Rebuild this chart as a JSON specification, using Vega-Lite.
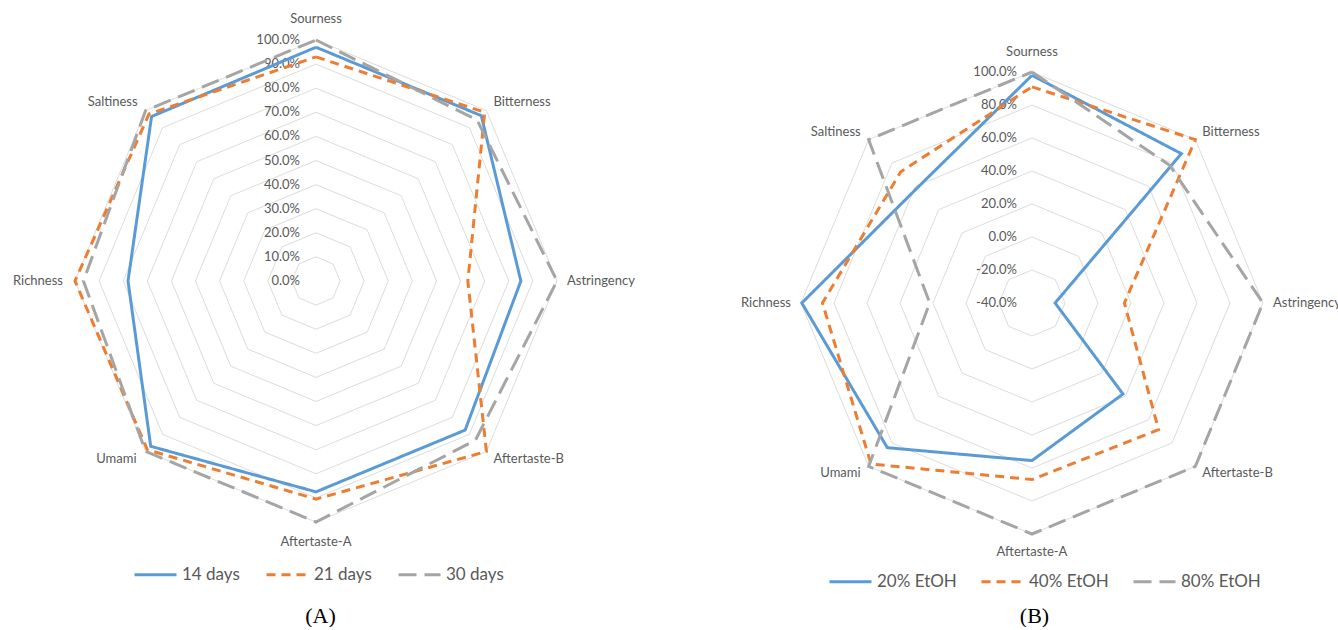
{
  "$schema": "https://vega.github.io/schema/vega-lite/v6.json",
  "padding": 0,
  "spacing": 0,
  "bounds": "flush",
  "background": "white",
  "config": {"view": {"stroke": null}, "font": "Lato"},
  "datasets": {
    "attrs": [
      {"attr": "Sourness", "k": 0}, {"attr": "Bitterness", "k": 1}, {"attr": "Astringency", "k": 2}, {"attr": "Aftertaste-B", "k": 3},
      {"attr": "Aftertaste-A", "k": 4}, {"attr": "Umami", "k": 5}, {"attr": "Richness", "k": 6}, {"attr": "Saltiness", "k": 7}
    ],
    "ringsA": [
      {"lv": 0, "lab": "0.0%", "k": [0,1,2,3,4,5,6,7,8]},
      {"lv": 10, "lab": "10.0%", "k": [0,1,2,3,4,5,6,7,8]},
      {"lv": 20, "lab": "20.0%", "k": [0,1,2,3,4,5,6,7,8]},
      {"lv": 30, "lab": "30.0%", "k": [0,1,2,3,4,5,6,7,8]},
      {"lv": 40, "lab": "40.0%", "k": [0,1,2,3,4,5,6,7,8]},
      {"lv": 50, "lab": "50.0%", "k": [0,1,2,3,4,5,6,7,8]},
      {"lv": 60, "lab": "60.0%", "k": [0,1,2,3,4,5,6,7,8]},
      {"lv": 70, "lab": "70.0%", "k": [0,1,2,3,4,5,6,7,8]},
      {"lv": 80, "lab": "80.0%", "k": [0,1,2,3,4,5,6,7,8]},
      {"lv": 90, "lab": "90.0%", "k": [0,1,2,3,4,5,6,7,8]},
      {"lv": 100, "lab": "100.0%", "k": [0,1,2,3,4,5,6,7,8]}
    ],
    "ringsB": [
      {"lv": -40, "lab": "-40.0%", "k": [0,1,2,3,4,5,6,7,8]},
      {"lv": -20, "lab": "-20.0%", "k": [0,1,2,3,4,5,6,7,8]},
      {"lv": 0, "lab": "0.0%", "k": [0,1,2,3,4,5,6,7,8]},
      {"lv": 20, "lab": "20.0%", "k": [0,1,2,3,4,5,6,7,8]},
      {"lv": 40, "lab": "40.0%", "k": [0,1,2,3,4,5,6,7,8]},
      {"lv": 60, "lab": "60.0%", "k": [0,1,2,3,4,5,6,7,8]},
      {"lv": 80, "lab": "80.0%", "k": [0,1,2,3,4,5,6,7,8]},
      {"lv": 100, "lab": "100.0%", "k": [0,1,2,3,4,5,6,7,8]}
    ],
    "seriesA": [
      {"s": "14 days", "k": 0, "v": 97}, {"s": "14 days", "k": 1, "v": 97}, {"s": "14 days", "k": 2, "v": 85},
      {"s": "14 days", "k": 3, "v": 87.5}, {"s": "14 days", "k": 4, "v": 87.5}, {"s": "14 days", "k": 5, "v": 97},
      {"s": "14 days", "k": 6, "v": 78}, {"s": "14 days", "k": 7, "v": 96.5}, {"s": "14 days", "k": 8, "v": 97},
      {"s": "21 days", "k": 0, "v": 93}, {"s": "21 days", "k": 1, "v": 99}, {"s": "21 days", "k": 2, "v": 63},
      {"s": "21 days", "k": 3, "v": 100}, {"s": "21 days", "k": 4, "v": 90.5}, {"s": "21 days", "k": 5, "v": 99},
      {"s": "21 days", "k": 6, "v": 100}, {"s": "21 days", "k": 7, "v": 98}, {"s": "21 days", "k": 8, "v": 93},
      {"s": "30 days", "k": 0, "v": 100}, {"s": "30 days", "k": 1, "v": 94.5}, {"s": "30 days", "k": 2, "v": 100},
      {"s": "30 days", "k": 3, "v": 93.5}, {"s": "30 days", "k": 4, "v": 100}, {"s": "30 days", "k": 5, "v": 100},
      {"s": "30 days", "k": 6, "v": 96.5}, {"s": "30 days", "k": 7, "v": 100}, {"s": "30 days", "k": 8, "v": 100}
    ],
    "seriesB": [
      {"s": "20% EtOH", "k": 0, "v": 98}, {"s": "20% EtOH", "k": 1, "v": 88}, {"s": "20% EtOH", "k": 2, "v": -26},
      {"s": "20% EtOH", "k": 3, "v": 38}, {"s": "20% EtOH", "k": 4, "v": 55.5}, {"s": "20% EtOH", "k": 5, "v": 84},
      {"s": "20% EtOH", "k": 6, "v": 99.5}, {"s": "20% EtOH", "k": 7, "v": 58.5}, {"s": "20% EtOH", "k": 8, "v": 98},
      {"s": "40% EtOH", "k": 0, "v": 91}, {"s": "40% EtOH", "k": 1, "v": 100}, {"s": "40% EtOH", "k": 2, "v": 16},
      {"s": "40% EtOH", "k": 3, "v": 68.5}, {"s": "40% EtOH", "k": 4, "v": 67}, {"s": "40% EtOH", "k": 5, "v": 98},
      {"s": "40% EtOH", "k": 6, "v": 87}, {"s": "40% EtOH", "k": 7, "v": 72.5}, {"s": "40% EtOH", "k": 8, "v": 91},
      {"s": "80% EtOH", "k": 0, "v": 100}, {"s": "80% EtOH", "k": 1, "v": 78}, {"s": "80% EtOH", "k": 2, "v": 100},
      {"s": "80% EtOH", "k": 3, "v": 100}, {"s": "80% EtOH", "k": 4, "v": 100}, {"s": "80% EtOH", "k": 5, "v": 100},
      {"s": "80% EtOH", "k": 6, "v": 22}, {"s": "80% EtOH", "k": 7, "v": 100}, {"s": "80% EtOH", "k": 8, "v": 100}
    ]
  },
  "hconcat": [
    {
      "width": 669,
      "height": 600,
      "title": {"text": "(A)", "orient": "bottom", "frame": "group", "font": "Liberation Serif", "fontSize": 22, "fontWeight": "normal", "color": "#000000", "offset": 6, "dx": -14},
      "layer": [
        {
          "data": {"name": "ringsA"},
          "transform": [
            {"flatten": ["k"]},
            {"calculate": "datum.lv/100", "as": "r"},
            {"calculate": "datum.r*sin(datum.k*PI/4)", "as": "x"},
            {"calculate": "datum.r*cos(datum.k*PI/4)", "as": "y"}
          ],
          "mark": {"type": "line", "color": "#DCDCDC", "strokeWidth": 1},
          "encoding": {
            "x": {"field": "x", "type": "quantitative", "scale": {"domain": [-1.3112, 1.4647], "nice": false, "zero": false}, "axis": null},
            "y": {"field": "y", "type": "quantitative", "scale": {"domain": [-1.3237, 1.166], "nice": false, "zero": false}, "axis": null},
            "detail": {"field": "lv"},
            "order": {"field": "k"}
          }
        },
        {
          "data": {"name": "ringsA"},
          "transform": [
            {"calculate": "datum.lv/100", "as": "y"},
            {"calculate": "0", "as": "x"}
          ],
          "mark": {"type": "text", "align": "right", "baseline": "middle", "dx": -16, "fontSize": 13, "color": "#595959", "font": "Lato"},
          "encoding": {
            "x": {"field": "x", "type": "quantitative"},
            "y": {"field": "y", "type": "quantitative"},
            "text": {"field": "lab"}
          }
        },
        {
          "data": {"name": "seriesA"},
          "transform": [
            {"calculate": "datum.v/100", "as": "r"},
            {"calculate": "datum.r*sin(datum.k*PI/4)", "as": "x"},
            {"calculate": "datum.r*cos(datum.k*PI/4)", "as": "y"}
          ],
          "mark": {"type": "line", "strokeWidth": 3, "strokeCap": "butt", "strokeJoin": "miter"},
          "encoding": {
            "x": {"field": "x", "type": "quantitative"},
            "y": {"field": "y", "type": "quantitative"},
            "order": {"field": "k"},
            "color": {
              "field": "s", "type": "nominal",
              "scale": {"domain": ["14 days", "21 days", "30 days"], "range": ["#5B9BD5", "#ED7D31", "#A5A5A5"]},
              "legend": {"title": null, "orient": "none", "legendX": 133, "legendY": 552, "direction": "horizontal", "symbolType": "stroke", "symbolSize": 1764, "symbolStrokeWidth": 3, "labelFontSize": 17, "labelColor": "#595959", "labelFont": "Lato", "labelOffset": 4, "columnPadding": 20, "padding": 0}
            },
            "strokeDash": {
              "field": "s", "type": "nominal",
              "scale": {"domain": ["14 days", "21 days", "30 days"], "range": [[1, 0], [9, 6], [18, 8]]},
              "legend": {"title": null, "orient": "none", "legendX": 133, "legendY": 552, "direction": "horizontal", "symbolType": "stroke", "symbolSize": 1764, "symbolStrokeWidth": 3, "labelFontSize": 17, "labelColor": "#595959", "labelFont": "Lato", "labelOffset": 4, "columnPadding": 20, "padding": 0}
            }
          }
        },
        {
          "data": {"name": "attrs"},
          "transform": [
            {"calculate": "sin(datum.k*PI/4)", "as": "x"},
            {"calculate": "cos(datum.k*PI/4)", "as": "y"}
          ],
          "mark": {
            "type": "text", "baseline": "middle", "fontSize": 13, "color": "#595959", "font": "Lato",
            "align": {"expr": "datum.k == 0 || datum.k == 4 ? 'center' : (datum.k < 4 ? 'left' : 'right')"},
            "dx": {"expr": "[0, 7, 10, 7, 0, -9, -12, -8][datum.k]"},
            "dy": {"expr": "[-21, -9, 0, 8, 20, 8, 0, -9][datum.k]"}
          },
          "encoding": {
            "x": {"field": "x", "type": "quantitative"},
            "y": {"field": "y", "type": "quantitative"},
            "text": {"field": "attr"}
          }
        }
      ]
    },
    {
      "width": 669,
      "height": 600,
      "title": {"text": "(B)", "orient": "bottom", "frame": "group", "font": "Liberation Serif", "fontSize": 22, "fontWeight": "normal", "color": "#000000", "offset": 6, "dx": 31},
      "layer": [
        {
          "data": {"name": "ringsB"},
          "transform": [
            {"flatten": ["k"]},
            {"calculate": "(datum.lv+40)/140", "as": "r"},
            {"calculate": "datum.r*sin(datum.k*PI/4)", "as": "x"},
            {"calculate": "datum.r*cos(datum.k*PI/4)", "as": "y"}
          ],
          "mark": {"type": "line", "color": "#DCDCDC", "strokeWidth": 1},
          "encoding": {
            "x": {"field": "x", "type": "quantitative", "scale": {"domain": [-1.5714, 1.3247], "nice": false, "zero": false}, "axis": null},
            "y": {"field": "y", "type": "quantitative", "scale": {"domain": [-1.2857, 1.3117], "nice": false, "zero": false}, "axis": null},
            "detail": {"field": "lv"},
            "order": {"field": "k"}
          }
        },
        {
          "data": {"name": "ringsB"},
          "transform": [
            {"calculate": "(datum.lv+40)/140", "as": "y"},
            {"calculate": "0", "as": "x"}
          ],
          "mark": {"type": "text", "align": "right", "baseline": "middle", "dx": -15, "fontSize": 13, "color": "#595959", "font": "Lato"},
          "encoding": {
            "x": {"field": "x", "type": "quantitative"},
            "y": {"field": "y", "type": "quantitative"},
            "text": {"field": "lab"}
          }
        },
        {
          "data": {"name": "seriesB"},
          "transform": [
            {"calculate": "(datum.v+40)/140", "as": "r"},
            {"calculate": "datum.r*sin(datum.k*PI/4)", "as": "x"},
            {"calculate": "datum.r*cos(datum.k*PI/4)", "as": "y"}
          ],
          "mark": {"type": "line", "strokeWidth": 3, "strokeCap": "butt", "strokeJoin": "miter"},
          "encoding": {
            "x": {"field": "x", "type": "quantitative"},
            "y": {"field": "y", "type": "quantitative"},
            "order": {"field": "k"},
            "color": {
              "field": "s", "type": "nominal",
              "scale": {"domain": ["20% EtOH", "40% EtOH", "80% EtOH"], "range": ["#5B9BD5", "#ED7D31", "#A5A5A5"]},
              "legend": {"title": null, "orient": "none", "legendX": 159, "legendY": 559, "direction": "horizontal", "symbolType": "stroke", "symbolSize": 1764, "symbolStrokeWidth": 3, "labelFontSize": 17, "labelColor": "#595959", "labelFont": "Lato", "labelOffset": 4, "columnPadding": 18, "padding": 0}
            },
            "strokeDash": {
              "field": "s", "type": "nominal",
              "scale": {"domain": ["20% EtOH", "40% EtOH", "80% EtOH"], "range": [[1, 0], [9, 6], [18, 8]]},
              "legend": {"title": null, "orient": "none", "legendX": 159, "legendY": 559, "direction": "horizontal", "symbolType": "stroke", "symbolSize": 1764, "symbolStrokeWidth": 3, "labelFontSize": 17, "labelColor": "#595959", "labelFont": "Lato", "labelOffset": 4, "columnPadding": 18, "padding": 0}
            }
          }
        },
        {
          "data": {"name": "attrs"},
          "transform": [
            {"calculate": "sin(datum.k*PI/4)", "as": "x"},
            {"calculate": "cos(datum.k*PI/4)", "as": "y"}
          ],
          "mark": {
            "type": "text", "baseline": "middle", "fontSize": 13, "color": "#595959", "font": "Lato",
            "align": {"expr": "datum.k == 0 || datum.k == 4 ? 'center' : (datum.k < 4 ? 'left' : 'right')"},
            "dx": {"expr": "[0, 7, 10, 7, 0, -8, -10, -8][datum.k]"},
            "dy": {"expr": "[-20, -8, 0, 7, 18, 7, 0, -8][datum.k]"}
          },
          "encoding": {
            "x": {"field": "x", "type": "quantitative"},
            "y": {"field": "y", "type": "quantitative"},
            "text": {"field": "attr"}
          }
        }
      ]
    }
  ],
  "resolve": {
    "scale": {"x": "independent", "y": "independent", "color": "independent", "strokeDash": "independent"},
    "legend": {"color": "independent", "strokeDash": "independent"}
  }
}
